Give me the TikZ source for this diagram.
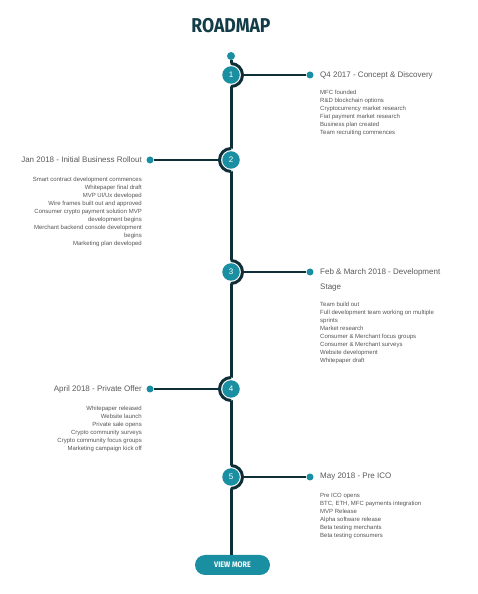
\documentclass[tikz,border=0pt]{standalone}
\usepackage{fontspec}
\setmainfont{Liberation Sans}
\newfontfamily\titlefont{Fira Sans}
\definecolor{tealc}{HTML}{1A8FA1}
\definecolor{darkc}{HTML}{0E2F38}
\definecolor{ttlc}{HTML}{123C47}
\definecolor{headc}{HTML}{5A5A5A}
\definecolor{bodyc}{HTML}{555555}
\begin{document}
\begin{tikzpicture}[x=1pt,y=1pt,
  ring/.style={circle, fill=white, minimum size=23pt, inner sep=0},
  num/.style={circle, fill=tealc, minimum size=17.5pt, inner sep=0, text=white, font=\fontsize{8}{9}\selectfont},
  enddot/.style={circle, fill=tealc, minimum size=7pt, inner sep=0},
  spine/.style={draw=darkc, line width=3pt},
  ringarc/.style={draw=darkc, line width=3pt},
  link/.style={draw=darkc, line width=1.2pt},
  head/.style={text=headc, font=\fontsize{8}{15}\selectfont, inner sep=0},
  body/.style={text=bodyc, font=\fontsize{6}{8}\selectfont, inner sep=0},
  btnstyle/.style={rounded corners=10pt, fill=tealc, minimum width=75pt, minimum height=20pt, inner sep=0, text=white, font=\titlefont\bfseries\fontsize{8}{9}\selectfont}
]
\useasboundingbox[fill=white] (0,0) rectangle (477,594);
\node[text=ttlc, inner sep=0, font=\titlefont\bfseries\fontsize{20}{22}\selectfont] (title) at (231,568) {\scalebox{0.88}[1]{ROADMAP}};
\node[enddot, minimum size=8pt] (top) at (231,538) {};
\node[btnstyle] (btn) at (232.5,29) {\scalebox{0.9}[1]{VIEW MORE}};
\draw[spine] (top) -- (top |- btn.north);

% item 1
\node[ring] (r1) at (231,519) {};
\draw[ringarc] (r1.center) ++(0,11.5) arc[start angle=90, end angle=-90, radius=11.5];
\node[num] (n1) at (r1) {1};
\node[enddot] (d1) at (310,519) {};
\draw[link] (r1.east) -- (d1);
\node[head, anchor=west] (h1) at (320,519) {Q4 2017 - Concept \& Discovery};
\node[body, anchor=north west, align=left] (b1) at (320,504.5) {MFC founded\\R\&D blockchain options\\Cryptocurrency market research\\Fiat payment market research\\Business plan created\\Team recruiting commences};

% item 2
\node[ring] (r2) at (231,434) {};
\draw[ringarc] (r2.center) ++(0,11.5) arc[start angle=90, end angle=270, radius=11.5];
\node[num] (n2) at (r2) {2};
\node[enddot] (d2) at (150,434) {};
\draw[link] (r2.west) -- (d2);
\node[head, anchor=east] (h2) at (142,434) {Jan 2018 - Initial Business Rollout};
\node[body, anchor=north east, align=right] (b2) at (142,417.5) {Smart contract development commences\\Whitepaper final draft\\MVP UI/Ux developed\\Wire frames built out and approved\\Consumer crypto payment solution MVP\\development begins\\Merchant backend console development\\begins\\Marketing plan developed};

% item 3
\node[ring] (r3) at (231,322) {};
\draw[ringarc] (r3.center) ++(0,11.5) arc[start angle=90, end angle=-90, radius=11.5];
\node[num] (n3) at (r3) {3};
\node[enddot] (d3) at (310,322) {};
\draw[link] (r3.east) -- (d3);
\node[head, anchor=north west, align=left] (h3) at (320,325.5) {Feb \& March 2018 - Development\\Stage};
\node[body, anchor=north west, align=left] (b3) at (320,292.5) {Team build out\\Full development team working on multiple\\sprints\\Market research\\Consumer \& Merchant focus groups\\Consumer \& Merchant surveys\\Website development\\Whitepaper draft};

% item 4
\node[ring] (r4) at (231,205) {};
\draw[ringarc] (r4.center) ++(0,11.5) arc[start angle=90, end angle=270, radius=11.5];
\node[num] (n4) at (r4) {4};
\node[enddot] (d4) at (150,205) {};
\draw[link] (r4.west) -- (d4);
\node[head, anchor=east] (h4) at (142,205) {April 2018 - Private Offer};
\node[body, anchor=north east, align=right] (b4) at (142,188.5) {Whitepaper released\\Website launch\\Private sale opens\\Crypto community surveys\\Crypto community focus groups\\Marketing campaign kick off};

% item 5
\node[ring] (r5) at (231,117) {};
\draw[ringarc] (r5.center) ++(0,11.5) arc[start angle=90, end angle=-90, radius=11.5];
\node[num] (n5) at (r5) {5};
\node[enddot] (d5) at (310,117) {};
\draw[link] (r5.east) -- (d5);
\node[head, anchor=west] (h5) at (320,117) {May 2018 - Pre ICO};
\node[body, anchor=north west, align=left] (b5) at (320,100.5) {Pre ICO opens\\BTC, ETH, MFC payments integration\\MVP Release\\Alpha software release\\Beta testing merchants\\Beta testing consumers};
\end{tikzpicture}
\end{document}
